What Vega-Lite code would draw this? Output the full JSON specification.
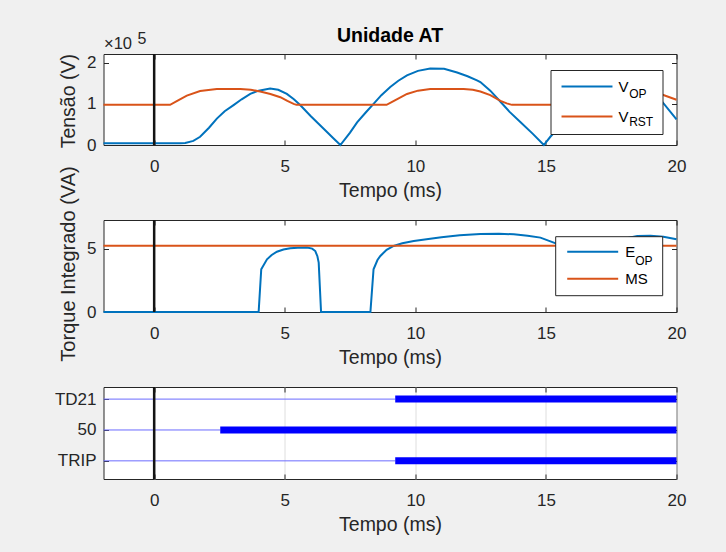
{
  "$schema": "https://vega.github.io/schema/vega-lite/v6.json",
  "background": "#f0f0f0",
  "padding": {"left": 53.5, "right": 41, "top": 25, "bottom": 22},
  "bounds": "flush",
  "spacing": 75,
  "resolve": {"scale": {"color": "independent", "opacity": "independent"}, "legend": {"color": "independent", "opacity": "independent"}},
  "config": {
    "font": "Liberation Sans",
    "view": {"stroke": "#262626", "strokeWidth": 1, "fill": "#ffffff"},
    "axis": {
      "domain": false, "grid": false, "tickSize": -5, "tickColor": "#262626", "tickWidth": 1,
      "labelColor": "#262626", "labelFontSize": 17, "labelFont": "Liberation Sans",
      "titleColor": "#262626", "titleFontSize": 19.5, "titleFontWeight": "normal", "titleFont": "Liberation Sans",
      "labelFlush": false, "labelOverlap": false
    },
    "title": {"fontSize": 19.5, "fontWeight": "bold", "color": "#000000", "font": "Liberation Sans"}
  },
  "datasets": {
    "volt": [
      {"t": -1.94, "v": 0.04, "s": "V_OP"}, {"t": 1.0, "v": 0.04, "s": "V_OP"}, {"t": 1.19, "v": 0.05, "s": "V_OP"},
      {"t": 1.5, "v": 0.1, "s": "V_OP"}, {"t": 1.76, "v": 0.2, "s": "V_OP"}, {"t": 2.1, "v": 0.42, "s": "V_OP"},
      {"t": 2.4, "v": 0.64, "s": "V_OP"}, {"t": 2.7, "v": 0.82, "s": "V_OP"}, {"t": 3.04, "v": 0.97, "s": "V_OP"},
      {"t": 3.35, "v": 1.11, "s": "V_OP"}, {"t": 3.68, "v": 1.24, "s": "V_OP"}, {"t": 4.0, "v": 1.32, "s": "V_OP"},
      {"t": 4.44, "v": 1.37, "s": "V_OP"}, {"t": 4.75, "v": 1.34, "s": "V_OP"}, {"t": 5.08, "v": 1.24, "s": "V_OP"},
      {"t": 5.35, "v": 1.11, "s": "V_OP"}, {"t": 5.59, "v": 0.97, "s": "V_OP"}, {"t": 6.0, "v": 0.7, "s": "V_OP"},
      {"t": 6.5, "v": 0.39, "s": "V_OP"}, {"t": 6.9, "v": 0.14, "s": "V_OP"}, {"t": 7.13, "v": 0.0, "s": "V_OP"},
      {"t": 7.5, "v": 0.3, "s": "V_OP"}, {"t": 7.77, "v": 0.55, "s": "V_OP"}, {"t": 8.1, "v": 0.79, "s": "V_OP"},
      {"t": 8.4, "v": 1.0, "s": "V_OP"}, {"t": 8.7, "v": 1.21, "s": "V_OP"}, {"t": 9.04, "v": 1.41, "s": "V_OP"},
      {"t": 9.35, "v": 1.56, "s": "V_OP"}, {"t": 9.68, "v": 1.69, "s": "V_OP"}, {"t": 10.1, "v": 1.8, "s": "V_OP"},
      {"t": 10.57, "v": 1.86, "s": "V_OP"}, {"t": 11.1, "v": 1.85, "s": "V_OP"}, {"t": 11.6, "v": 1.76, "s": "V_OP"},
      {"t": 12.0, "v": 1.67, "s": "V_OP"}, {"t": 12.36, "v": 1.57, "s": "V_OP"}, {"t": 12.49, "v": 1.53, "s": "V_OP"},
      {"t": 12.87, "v": 1.32, "s": "V_OP"}, {"t": 13.26, "v": 1.05, "s": "V_OP"}, {"t": 13.6, "v": 0.81, "s": "V_OP"},
      {"t": 14.02, "v": 0.56, "s": "V_OP"}, {"t": 14.5, "v": 0.27, "s": "V_OP"}, {"t": 14.92, "v": 0.0, "s": "V_OP"},
      {"t": 15.17, "v": 0.2, "s": "V_OP"}, {"t": 15.6, "v": 0.5, "s": "V_OP"}, {"t": 16.2, "v": 0.9, "s": "V_OP"},
      {"t": 16.8, "v": 1.19, "s": "V_OP"}, {"t": 17.5, "v": 1.35, "s": "V_OP"}, {"t": 18.2, "v": 1.39, "s": "V_OP"},
      {"t": 18.8, "v": 1.29, "s": "V_OP"}, {"t": 19.39, "v": 1.1, "s": "V_OP"}, {"t": 20.0, "v": 0.62, "s": "V_OP"},
      {"t": -1.94, "v": 0.975, "s": "V_RST"}, {"t": 0.61, "v": 0.975, "s": "V_RST"}, {"t": 0.9, "v": 1.08, "s": "V_RST"},
      {"t": 1.25, "v": 1.2, "s": "V_RST"}, {"t": 1.76, "v": 1.31, "s": "V_RST"}, {"t": 2.4, "v": 1.36, "s": "V_RST"},
      {"t": 3.3, "v": 1.36, "s": "V_RST"}, {"t": 3.7, "v": 1.34, "s": "V_RST"}, {"t": 4.06, "v": 1.3, "s": "V_RST"},
      {"t": 4.45, "v": 1.24, "s": "V_RST"}, {"t": 4.83, "v": 1.16, "s": "V_RST"}, {"t": 5.1, "v": 1.07, "s": "V_RST"},
      {"t": 5.34, "v": 1.0, "s": "V_RST"}, {"t": 5.45, "v": 0.975, "s": "V_RST"}, {"t": 8.9, "v": 0.975, "s": "V_RST"},
      {"t": 9.2, "v": 1.08, "s": "V_RST"}, {"t": 9.68, "v": 1.24, "s": "V_RST"}, {"t": 10.1, "v": 1.32, "s": "V_RST"},
      {"t": 10.57, "v": 1.36, "s": "V_RST"}, {"t": 11.85, "v": 1.36, "s": "V_RST"}, {"t": 12.2, "v": 1.34, "s": "V_RST"},
      {"t": 12.49, "v": 1.3, "s": "V_RST"}, {"t": 12.87, "v": 1.21, "s": "V_RST"}, {"t": 13.26, "v": 1.07, "s": "V_RST"},
      {"t": 13.5, "v": 1.01, "s": "V_RST"}, {"t": 13.7, "v": 0.975, "s": "V_RST"}, {"t": 16.0, "v": 0.975, "s": "V_RST"},
      {"t": 16.4, "v": 1.1, "s": "V_RST"}, {"t": 16.9, "v": 1.27, "s": "V_RST"}, {"t": 17.5, "v": 1.35, "s": "V_RST"},
      {"t": 18.3, "v": 1.36, "s": "V_RST"}, {"t": 18.9, "v": 1.32, "s": "V_RST"}, {"t": 19.39, "v": 1.24, "s": "V_RST"},
      {"t": 20.0, "v": 1.1, "s": "V_RST"}
    ],
    "torque": [
      {"t": -1.94, "e": 0, "s": "E_OP"}, {"t": 4.0, "e": 0, "s": "E_OP"}, {"t": 4.1, "e": 3.37, "s": "E_OP"},
      {"t": 4.32, "e": 4.16, "s": "E_OP"}, {"t": 4.5, "e": 4.5, "s": "E_OP"}, {"t": 4.7, "e": 4.76, "s": "E_OP"},
      {"t": 4.95, "e": 4.93, "s": "E_OP"}, {"t": 5.21, "e": 5.03, "s": "E_OP"}, {"t": 5.5, "e": 5.07, "s": "E_OP"},
      {"t": 5.85, "e": 5.08, "s": "E_OP"}, {"t": 6.05, "e": 5.0, "s": "E_OP"}, {"t": 6.17, "e": 4.81, "s": "E_OP"},
      {"t": 6.25, "e": 4.4, "s": "E_OP"}, {"t": 6.3, "e": 3.9, "s": "E_OP"}, {"t": 6.39, "e": 0, "s": "E_OP"},
      {"t": 8.28, "e": 0, "s": "E_OP"}, {"t": 8.4, "e": 3.37, "s": "E_OP"}, {"t": 8.55, "e": 4.1, "s": "E_OP"},
      {"t": 8.66, "e": 4.42, "s": "E_OP"}, {"t": 8.9, "e": 4.9, "s": "E_OP"}, {"t": 9.17, "e": 5.21, "s": "E_OP"},
      {"t": 9.5, "e": 5.42, "s": "E_OP"}, {"t": 9.94, "e": 5.6, "s": "E_OP"}, {"t": 10.5, "e": 5.76, "s": "E_OP"},
      {"t": 11.0, "e": 5.9, "s": "E_OP"}, {"t": 11.7, "e": 6.05, "s": "E_OP"}, {"t": 12.49, "e": 6.15, "s": "E_OP"},
      {"t": 13.2, "e": 6.18, "s": "E_OP"}, {"t": 13.77, "e": 6.13, "s": "E_OP"}, {"t": 14.3, "e": 6.02, "s": "E_OP"},
      {"t": 14.79, "e": 5.87, "s": "E_OP"}, {"t": 15.3, "e": 5.47, "s": "E_OP"}, {"t": 15.8, "e": 5.1, "s": "E_OP"},
      {"t": 16.5, "e": 4.9, "s": "E_OP"}, {"t": 17.2, "e": 5.2, "s": "E_OP"}, {"t": 17.8, "e": 5.7, "s": "E_OP"},
      {"t": 18.5, "e": 6.0, "s": "E_OP"}, {"t": 19.0, "e": 6.02, "s": "E_OP"}, {"t": 19.5, "e": 5.94, "s": "E_OP"},
      {"t": 20.0, "e": 5.74, "s": "E_OP"},
      {"t": -1.94, "e": 5.22, "s": "MS"}, {"t": 20.0, "e": 5.22, "s": "MS"}
    ],
    "signals": [
      {"sig": "TD21", "t0": -1.94, "t1": 9.23, "state": 0},
      {"sig": "TD21", "t0": 9.23, "t1": 20.0, "state": 1},
      {"sig": "50", "t0": -1.94, "t1": 2.53, "state": 0},
      {"sig": "50", "t0": 2.53, "t1": 20.0, "state": 1},
      {"sig": "TRIP", "t0": -1.94, "t1": 9.23, "state": 0},
      {"sig": "TRIP", "t0": 9.23, "t1": 20.0, "state": 1}
    ]
  },
  "vconcat": [
    {
      "width": 573, "height": 91,
      "title": {"text": "Unidade AT", "offset": -31.4, "baseline": "alphabetic", "anchor": "middle"},
      "layer": [
        {
          "data": {"name": "volt"},
          "transform": [{"filter": "datum.s == 'V_OP'"}],
          "mark": {"type": "line", "strokeWidth": 2},
          "encoding": {
            "x": {"field": "t", "type": "quantitative", "scale": {"domain": [-1.94, 20], "nice": false, "zero": false},
                  "axis": {"orient": "bottom", "values": [0, 5, 10, 15, 20], "title": "Tempo (ms)", "titleX": 286.5, "titleY": 51, "titleAlign": "center", "titleBaseline": "alphabetic", "labelPadding": 18.5}},
            "y": {"field": "v", "type": "quantitative", "scale": {"domain": [0, 2.21], "nice": false, "zero": false},
                  "axis": {"orient": "left", "values": [0, 1, 2], "title": "Tensão (V)", "titleX": -29, "titleY": 46.7, "titleAngle": 270, "titleAlign": "center", "titleBaseline": "alphabetic", "labelPadding": 12.5}},
            "color": {"field": "s", "type": "nominal", "scale": {"range": ["#0072BD", "#D95319"]},
                      "legend": {"orient": "none", "legendX": 447, "legendY": 16, "direction": "vertical", "title": null,
                                 "symbolType": "M-3.92,0H3.92M9.57,0", "symbolSize": 169, "symbolStrokeWidth": 2, "symbolOffset": 20,
                                 "labelOffset": 24, "labelFontSize": 15, "labelColor": "#000000", "padding": 9, "rowPadding": 14,
                                 "strokeColor": "#262626", "fillColor": "#ffffff", "labelExpr": "'V'"}},
            "opacity": {"field": "s", "type": "ordinal", "scale": {"domain": ["V_OP", "V_RST"], "range": [1, 1]},
                        "legend": {"orient": "none", "legendX": 510.7, "legendY": 32.7, "title": null, "direction": "vertical",
                                   "symbolType": "M0,0L0,0", "symbolSize": 169, "symbolStrokeWidth": 2, "symbolOffset": 0,
                                   "labelOffset": 0, "labelFontSize": 12, "labelColor": "#000000", "padding": 0, "rowPadding": 14,
                                   "labelExpr": "datum.value == 'V_OP' ? 'OP' : 'RST'"}}
          }
        },
        {
          "data": {"name": "volt"},
          "transform": [{"filter": "datum.s == 'V_RST'"}],
          "mark": {"type": "line", "strokeWidth": 2},
          "encoding": {
            "x": {"field": "t", "type": "quantitative", "scale": {"domain": [-1.94, 20], "nice": false, "zero": false},
                  "axis": {"orient": "top", "values": [0, 5, 10, 15, 20], "labels": false, "title": "×10", "titleX": 0, "titleY": -5.6, "titleAlign": "left", "titleAngle": 0, "titleBaseline": "alphabetic", "titleFontSize": 16.5}},
            "y": {"field": "v", "type": "quantitative", "scale": {"domain": [0, 2.21], "nice": false, "zero": false},
                  "axis": {"orient": "right", "values": [0, 1, 2], "labels": false, "title": "5", "titleX": -539.6, "titleY": -10.6, "titleAlign": "left", "titleAngle": 0, "titleBaseline": "alphabetic", "titleFontSize": 16}},
            "color": {"field": "s", "type": "nominal", "scale": {"range": ["#0072BD", "#D95319"]}},
            "opacity": {"field": "s", "type": "ordinal", "scale": {"domain": ["V_OP", "V_RST"], "range": [1, 1]}}
          }
        },
        {
          "data": {"values": [{}]},
          "mark": {"type": "rule", "color": "#141414", "strokeWidth": 2.5},
          "encoding": {"x": {"datum": 0, "type": "quantitative", "scale": {"domain": [-1.94, 20], "nice": false, "zero": false}, "axis": null}}
        }
      ]
    },
    {
      "width": 573, "height": 92,
      "layer": [
        {
          "data": {"name": "torque"},
          "transform": [{"filter": "datum.s == 'E_OP'"}],
          "mark": {"type": "line", "strokeWidth": 2},
          "encoding": {
            "x": {"field": "t", "type": "quantitative", "scale": {"domain": [-1.94, 20], "nice": false, "zero": false},
                  "axis": {"orient": "bottom", "values": [0, 5, 10, 15, 20], "title": "Tempo (ms)", "titleX": 286.5, "titleY": 51, "titleAlign": "center", "titleBaseline": "alphabetic", "labelPadding": 18.5}},
            "y": {"field": "e", "type": "quantitative", "scale": {"domain": [0, 7.26], "nice": false, "zero": false},
                  "axis": {"orient": "left", "values": [0, 5], "title": "Torque Integrado (VA)", "titleX": -29, "titleY": 43.5, "titleAngle": 270, "titleAlign": "center", "titleBaseline": "alphabetic", "titleFontSize": 20, "labelPadding": 12.5}},
            "color": {"field": "s", "type": "nominal", "scale": {"range": ["#0072BD", "#D95319"]},
                      "legend": {"orient": "none", "legendX": 451.7, "legendY": 16.2, "direction": "vertical", "title": null,
                                 "symbolType": "M-3.92,0H3.92M8.7,0", "symbolSize": 169, "symbolStrokeWidth": 2, "symbolOffset": 22,
                                 "labelOffset": 25, "labelFontSize": 15, "labelColor": "#000000", "padding": 8, "rowPadding": 11,
                                 "strokeColor": "#262626", "fillColor": "#ffffff", "labelExpr": "datum.value == 'E_OP' ? 'E' : 'MS'"}},
            "opacity": {"field": "s", "type": "ordinal", "scale": {"domain": ["E_OP", "MS"], "range": [1, 1]},
                        "legend": {"orient": "none", "legendX": 516.7, "legendY": 33, "title": null, "direction": "vertical", "values": ["E_OP"],
                                   "symbolType": "M0,0L0,0", "symbolSize": 169, "symbolStrokeWidth": 2, "symbolOffset": 0,
                                   "labelOffset": 0, "labelFontSize": 12, "labelColor": "#000000", "padding": 0, "rowPadding": 11,
                                   "labelExpr": "'OP'"}}
          }
        },
        {
          "data": {"name": "torque"},
          "transform": [{"filter": "datum.s == 'MS'"}],
          "mark": {"type": "line", "strokeWidth": 2},
          "encoding": {
            "x": {"field": "t", "type": "quantitative", "scale": {"domain": [-1.94, 20], "nice": false, "zero": false},
                  "axis": {"orient": "top", "values": [0, 5, 10, 15, 20], "labels": false, "title": null}},
            "y": {"field": "e", "type": "quantitative", "scale": {"domain": [0, 7.26], "nice": false, "zero": false},
                  "axis": {"orient": "right", "values": [0, 5], "labels": false, "title": null}},
            "color": {"field": "s", "type": "nominal", "scale": {"range": ["#0072BD", "#D95319"]}},
            "opacity": {"field": "s", "type": "ordinal", "scale": {"domain": ["E_OP", "MS"], "range": [1, 1]}}
          }
        },
        {
          "data": {"values": [{}]},
          "mark": {"type": "rule", "color": "#141414", "strokeWidth": 2.5},
          "encoding": {"x": {"datum": 0, "type": "quantitative", "scale": {"domain": [-1.94, 20], "nice": false, "zero": false}, "axis": null}}
        }
      ]
    },
    {
      "width": 573, "height": 92,
      "layer": [
        {
          "data": {"name": "signals"},
          "transform": [{"filter": "datum.state == 0"}],
          "mark": {"type": "rule", "color": "#6b6bff", "strokeWidth": 1},
          "encoding": {
            "x": {"field": "t0", "type": "quantitative", "scale": {"domain": [-1.94, 20], "nice": false, "zero": false},
                  "axis": {"orient": "bottom", "values": [0, 5, 10, 15, 20], "title": "Tempo (ms)", "titleX": 286.5, "titleY": 51, "titleAlign": "center", "titleBaseline": "alphabetic", "labelPadding": 18.5, "grid": true, "gridColor": "#dedede", "gridWidth": 1}},
            "x2": {"field": "t1"},
            "y": {"field": "sig", "type": "nominal", "scale": {"type": "point", "domain": ["TD21", "50", "TRIP"], "padding": 0.49, "align": 0.4},
                  "axis": {"orient": "left", "title": null, "labelPadding": 12.5}}
          }
        },
        {
          "data": {"name": "signals"},
          "transform": [{"filter": "datum.state == 1"}],
          "mark": {"type": "rule", "color": "#0000ff", "strokeWidth": 7},
          "encoding": {
            "x": {"field": "t0", "type": "quantitative", "scale": {"domain": [-1.94, 20], "nice": false, "zero": false},
                  "axis": {"orient": "top", "values": [0, 5, 10, 15, 20], "labels": false, "title": null}},
            "x2": {"field": "t1"},
            "y": {"field": "sig", "type": "nominal", "scale": {"type": "point", "domain": ["TD21", "50", "TRIP"], "padding": 0.49, "align": 0.4},
                  "axis": {"orient": "right", "labels": false, "title": null}}
          }
        },
        {
          "data": {"values": [{}]},
          "mark": {"type": "rule", "color": "#141414", "strokeWidth": 2.5},
          "encoding": {"x": {"datum": 0, "type": "quantitative", "scale": {"domain": [-1.94, 20], "nice": false, "zero": false}, "axis": null}}
        }
      ]
    }
  ]
}
